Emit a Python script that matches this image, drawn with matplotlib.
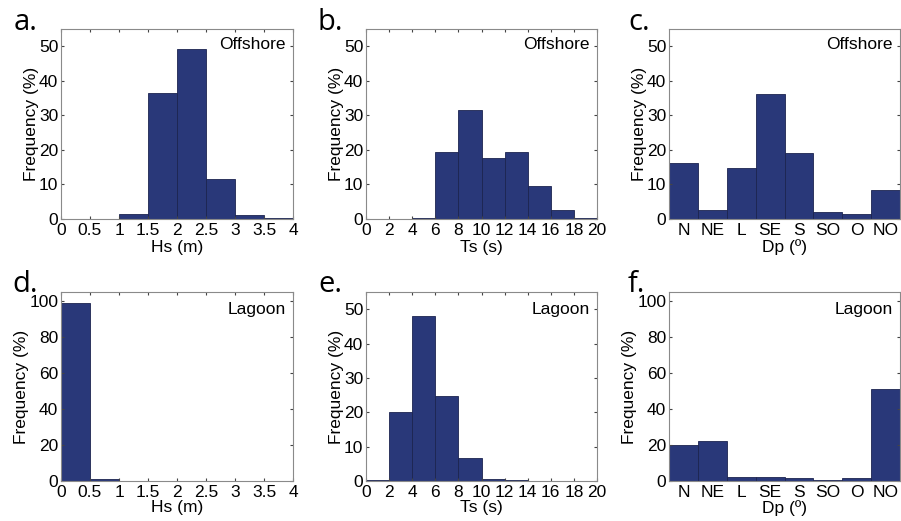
import matplotlib
matplotlib.use("Agg")
import matplotlib.pyplot as plt
import numpy as np

plt.rcParams['font.family'] = ['Liberation Sans', 'DejaVu Sans']

# ---- data ----
hs_edges = [0, 0.5, 1, 1.5, 2, 2.5, 3, 3.5, 4]
hs_offshore = [0, 0, 1.5, 36.5, 49.3, 11.6, 1.2, 0.25]
hs_lagoon = [98.8, 1.2, 0, 0, 0, 0, 0, 0]

ts_edges = [0, 2, 4, 6, 8, 10, 12, 14, 16, 18, 20]
ts_offshore = [0, 0, 0.2, 19.3, 31.5, 17.8, 19.3, 9.6, 2.6, 0.4]
ts_lagoon = [0.2, 20.2, 48.0, 24.7, 6.7, 0.5, 0.2, 0, 0, 0]

dp_labels = ["N", "NE", "L", "SE", "S", "SO", "O", "NO"]
dp_offshore = [16.2, 2.7, 14.7, 36.2, 19.2, 2.0, 1.4, 8.5]
dp_lagoon = [19.8, 22.0, 2.1, 2.4, 1.5, 0.8, 1.6, 51.0]

hs_ticks = [0, 0.5, 1, 1.5, 2, 2.5, 3, 3.5, 4]
hs_ticklabels = ["0", "0.5", "1", "1.5", "2", "2.5", "3", "3.5", "4"]
ts_ticks = [0, 2, 4, 6, 8, 10, 12, 14, 16, 18, 20]

panel_letters = ["a.", "b.", "c.", "d.", "e.", "f."]

bar_color = "#293879"
edge_color = "#1c2450"
axis_color = "#8a8a8a"

fig = plt.figure(figsize=(9.01, 5.21), dpi=100)

W = 901.0
H = 521.0
lefts = [61, 366, 669]
widths = [232, 231, 231]
rows = [(29, 219), (292, 481)]

axes = []
for r, (top, bot) in enumerate(rows):
    for c in range(3):
        ax = fig.add_axes([lefts[c] / W, 1 - bot / H, widths[c] / W, (bot - top) / H])
        axes.append(ax)

FS = 12.5

def style(ax):
    for s in ax.spines.values():
        s.set_color(axis_color)
        s.set_linewidth(0.8)
    ax.tick_params(direction='in', length=2.5, width=0.8, color='#444444',
                   top=True, right=True, labelsize=FS)
    ax.tick_params(axis='x', pad=3)
    ax.tick_params(axis='y', pad=2)
    ax.set_ylabel("Frequency (%)", fontsize=FS, labelpad=0)

def hist(ax, edges, vals):
    edges = np.asarray(edges, dtype=float)
    ax.bar(edges[:-1], vals, width=np.diff(edges), align='edge',
           color=bar_color, edgecolor=edge_color, linewidth=0.6)
    ax.set_xlim(edges[0], edges[-1])

def cat(ax, labels, vals):
    x = np.arange(1, len(labels) + 1)
    ax.bar(x, vals, width=1.0, color=bar_color, edgecolor=edge_color, linewidth=0.6)
    ax.set_xlim(0.5, len(labels) + 0.5)
    ax.set_xticks(x)
    ax.set_xticklabels(labels)

def corner(ax, txt, y):
    ax.text(0.97, y, txt, transform=ax.transAxes, ha='right', va='center', fontsize=FS)

# a
ax = axes[0]
hist(ax, hs_edges, hs_offshore)
ax.set_ylim(0, 55)
ax.set_yticks([0, 10, 20, 30, 40, 50])
ax.set_xticks(hs_ticks)
ax.set_xticklabels(hs_ticklabels)
ax.set_xlabel("Hs (m)", fontsize=FS, labelpad=1)
style(ax)
corner(ax, "Offshore", 0.92)

# b
ax = axes[1]
hist(ax, ts_edges, ts_offshore)
ax.set_ylim(0, 55)
ax.set_yticks([0, 10, 20, 30, 40, 50])
ax.set_xticks(ts_ticks)
ax.set_xlabel("Ts (s)", fontsize=FS, labelpad=1)
style(ax)
corner(ax, "Offshore", 0.92)

# c
ax = axes[2]
cat(ax, dp_labels, dp_offshore)
ax.set_ylim(0, 55)
ax.set_yticks([0, 10, 20, 30, 40, 50])
ax.set_xlabel("Dp (º)", fontsize=FS, labelpad=1)
style(ax)
ax.tick_params(axis='x', length=0)
corner(ax, "Offshore", 0.92)

# d
ax = axes[3]
hist(ax, hs_edges, hs_lagoon)
ax.set_ylim(0, 105)
ax.set_yticks([0, 20, 40, 60, 80, 100])
ax.set_xticks(hs_ticks)
ax.set_xticklabels(hs_ticklabels)
ax.set_xlabel("Hs (m)", fontsize=FS, labelpad=0)
style(ax)
corner(ax, "Lagoon", 0.91)

# e
ax = axes[4]
hist(ax, ts_edges, ts_lagoon)
ax.set_ylim(0, 55)
ax.set_yticks([0, 10, 20, 30, 40, 50])
ax.set_xticks(ts_ticks)
ax.set_xlabel("Ts (s)", fontsize=FS, labelpad=0)
style(ax)
corner(ax, "Lagoon", 0.91)

# f
ax = axes[5]
cat(ax, dp_labels, dp_lagoon)
ax.set_ylim(0, 105)
ax.set_yticks([0, 20, 40, 60, 80, 100])
ax.set_xlabel("Dp (º)", fontsize=FS, labelpad=0)
style(ax)
ax.tick_params(axis='x', length=0)
corner(ax, "Lagoon", 0.91)

# panel letters
letter_pos = [(14, 30), (318, 30), (628, 30), (12, 292), (318, 292), (628, 292)]
for (lx, ly), t in zip(letter_pos, panel_letters):
    fig.text(lx / W, 1 - ly / H, t, fontsize=21, family=['Open Sans', 'DejaVu Sans'],
             ha='left', va='baseline')

fig.savefig("out.png", dpi=100)
